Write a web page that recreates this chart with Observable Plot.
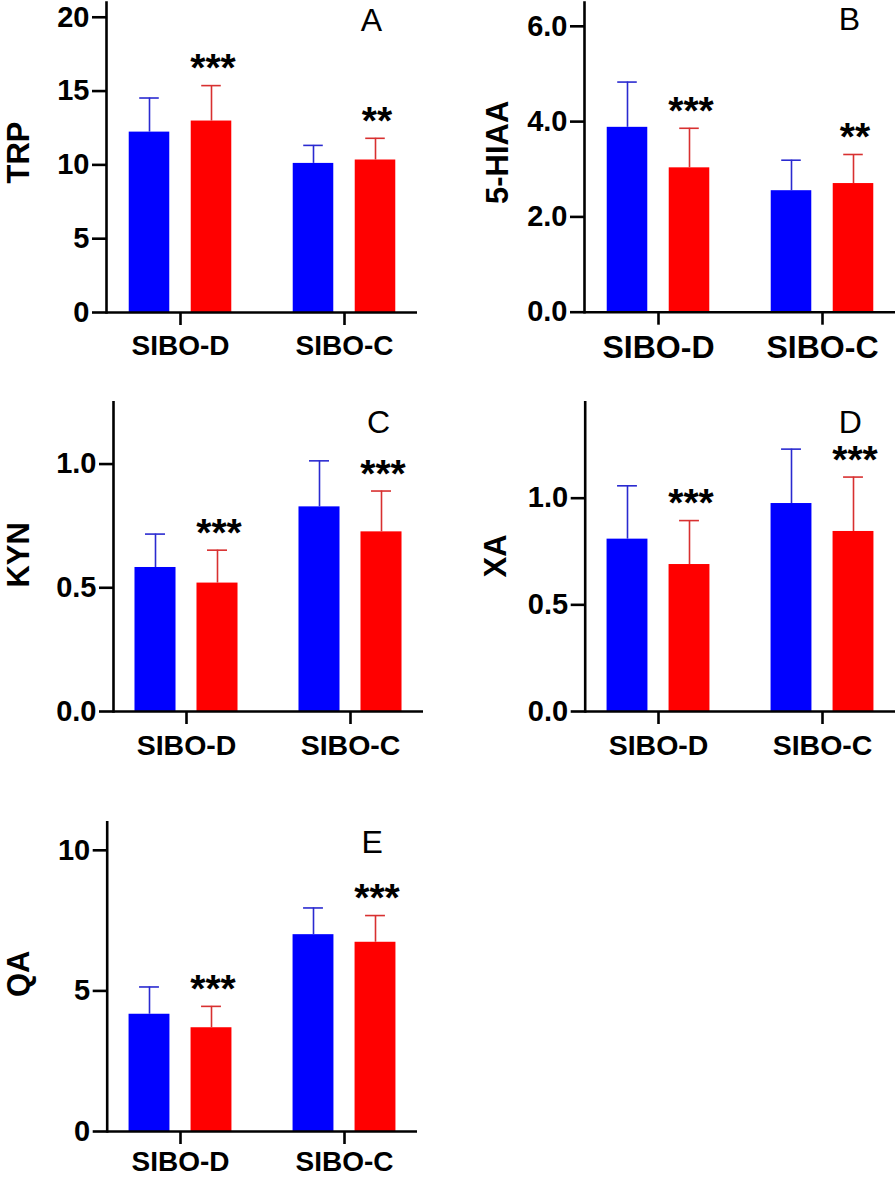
<!DOCTYPE html>
<html>
<head>
<meta charset="utf-8">
<script src="https://cdn.jsdelivr.net/npm/d3@7"></script>
<script src="https://cdn.jsdelivr.net/npm/@observablehq/plot@0.6"></script>
<style>
  html, body { margin: 0; padding: 0; background: #ffffff; }
  #root { position: relative; width: 896px; height: 1178px; background: #ffffff; overflow: hidden; }
  #root svg { position: absolute; }
</style>
</head>
<body>
<div id="root"></div>
<script>
// ---------- data ----------
const groups = ["SIBO-D", "SIBO-C"];
const series = ["Series 1", "Series 2"];

const trpMean1 = [12.22, 10.10];
const trpSd1   = [2.31, 1.22];
const trpMean2 = [12.97, 10.33];
const trpSd2   = [2.40, 1.47];
const trpSig   = ["***", "**"];

const hiaaMean1 = [3.88, 2.55];
const hiaaSd1   = [0.95, 0.64];
const hiaaMean2 = [3.03, 2.70];
const hiaaSd2   = [0.83, 0.61];
const hiaaSig   = ["***", "**"];

const kynMean1 = [0.582, 0.827];
const kynSd1   = [0.135, 0.186];
const kynMean2 = [0.519, 0.726];
const kynSd2   = [0.133, 0.165];
const kynSig   = ["***", "***"];

const xaMean1 = [0.808, 0.975];
const xaSd1   = [0.250, 0.255];
const xaMean2 = [0.689, 0.844];
const xaSd2   = [0.206, 0.255];
const xaSig   = ["***", "***"];

const qaMean1 = [4.17, 7.00];
const qaSd1   = [0.97, 0.95];
const qaMean2 = [3.69, 6.73];
const qaSd2   = [0.76, 0.95];
const qaSig   = ["***", "***"];

const trpTicks  = [0, 5, 10, 15, 20];
const hiaaTicks = [0, 2, 4, 6];
const kynTicks  = [0, 0.5, 1.0];
const xaTicks   = [0, 0.5, 1.0];
const qaTicks   = [0, 5, 10];

// ---------- helpers ----------
function rowsOf(m1, s1, m2, s2, sig) {
  const rows = [];
  groups.forEach((g, i) => {
    rows.push({group: g, series: series[0], mean: m1[i], sd: s1[i], sig: ""});
    rows.push({group: g, series: series[1], mean: m2[i], sd: s2[i], sig: sig[i]});
  });
  return rows;
}

const FONT = "'Liberation Sans', Arial, Helvetica, sans-serif";
const BLUE = "#0000ff", RED = "#ff0000";
const BLUE_ERR = "#2a2ad0", RED_ERR = "#d83030";
const PI = 0.11, PO = 0;

function panel(cfg) {
  const {left, top, width, height, mL, mR, mT, mB, domain, ticks, fmt,
         label, letter, rows, xFont, xPad, labelDx, labelDy, letterDy} = cfg;
  const range = width - mL - mR;
  const bw = range * (1 - PI) / (groups.length - PI + 2 * PO);
  const barW = 41, capW = 20, off = 31;
  const barIns = (bw - barW) / 2, capIns = (bw - capW) / 2;
  const s1 = rows.filter(d => d.series === series[0]);
  const s2 = rows.filter(d => d.series === series[1]);
  const topOf = d => d.mean + d.sd;
  const chart = Plot.plot({
    width, height,
    marginLeft: mL, marginRight: mR, marginTop: mT, marginBottom: mB,
    style: {fontFamily: FONT, background: "transparent", overflow: "visible", color: "#000"},
    x: {type: "band", domain: groups, paddingInner: PI, paddingOuter: PO, axis: null},
    y: {domain, axis: null},
    marks: [
      Plot.barY(s1, {x: "group", y: "mean", fill: BLUE, dx: -off, insetLeft: barIns, insetRight: barIns}),
      Plot.barY(s2, {x: "group", y: "mean", fill: RED, dx: off, insetLeft: barIns, insetRight: barIns}),
      Plot.ruleX(s1, {x: "group", y1: "mean", y2: topOf, dx: -off, stroke: BLUE_ERR, strokeWidth: 1.6}),
      Plot.ruleX(s2, {x: "group", y1: "mean", y2: topOf, dx: off, stroke: RED_ERR, strokeWidth: 1.6}),
      Plot.tickY(s1, {x: "group", y: topOf, dx: -off, stroke: BLUE_ERR, strokeWidth: 1.6, insetLeft: capIns, insetRight: capIns}),
      Plot.tickY(s2, {x: "group", y: topOf, dx: off, stroke: RED_ERR, strokeWidth: 1.6, insetLeft: capIns, insetRight: capIns}),
      Plot.text(s2, {x: "group", y: topOf, text: "sig", dx: off + 1.5, dy: -17, fontSize: 39, fontWeight: "bold",
                     textAnchor: "middle", lineAnchor: "middle", fill: "#000", style: "letter-spacing:3px"}),
      Plot.ruleY([0], {stroke: "#000", strokeWidth: 2.6}),
      Plot.frame({anchor: "left", stroke: "#000", strokeWidth: 2.6}),
      Plot.axisY({ticks, tickFormat: fmt, tickSize: 14, tickPadding: 3, fontSize: 29, fontWeight: "bold",
                  strokeWidth: 2.6, label: null, fill: "#000", stroke: "#000"}),
      Plot.axisX({tickSize: 13, tickPadding: xPad, fontSize: xFont, fontWeight: "bold",
                  strokeWidth: 2.6, label: null, fill: "#000", stroke: "#000"}),
      Plot.text([label], {frameAnchor: "left", dx: labelDx, dy: labelDy, rotate: -90, fontSize: 31,
                          fontWeight: "bold", textAnchor: "middle", lineAnchor: "middle", fill: "#000"}),
      Plot.text([letter], {frameAnchor: "top-left", dx: 265, dy: letterDy, fontSize: 32, fontWeight: "normal",
                           textAnchor: "middle", lineAnchor: "middle", fill: "#000"})
    ]
  });
  chart.style.left = left + "px";
  chart.style.top = top + "px";
  document.getElementById("root").appendChild(chart);
}

const fmtInt = d3.format("d");
const fmt1 = d3.format(".1f");

panel({left: 0, top: 0, width: 448, height: 365, mL: 106, mR: 31, mT: 2, mB: 53,
       domain: [0, 21], ticks: trpTicks, fmt: fmtInt, label: "TRP", letter: "A",
       rows: rowsOf(trpMean1, trpSd1, trpMean2, trpSd2, trpSig), xFont: 28, xPad: 10, labelDx: -87, labelDy: -5, letterDy: 18});
panel({left: 448, top: 0, width: 448, height: 365, mL: 136, mR: 1, mT: 2, mB: 53.3,
       domain: [0, 6.5], ticks: hiaaTicks, fmt: fmt1, label: "5-HIAA", letter: "B",
       rows: rowsOf(hiaaMean1, hiaaSd1, hiaaMean2, hiaaSd2, hiaaSig), xFont: 32, xPad: 10, labelDx: -86, labelDy: -5, letterDy: 17});
panel({left: 0, top: 365, width: 448, height: 400, mL: 113, mR: 25, mT: 36.7, mB: 54,
       domain: [0, 1.25], ticks: kynTicks, fmt: fmt1, label: "KYN", letter: "C",
       rows: rowsOf(kynMean1, kynSd1, kynMean2, kynSd2, kynSig), xFont: 28.5, xPad: 10, labelDx: -94, labelDy: -2, letterDy: 21});
panel({left: 448, top: 365, width: 448, height: 400, mL: 136.7, mR: 1, mT: 36.7, mB: 54,
       domain: [0, 1.45], ticks: xaTicks, fmt: fmt1, label: "XA", letter: "D",
       rows: rowsOf(xaMean1, xaSd1, xaMean2, xaSd2, xaSig), xFont: 28.5, xPad: 10, labelDx: -89, labelDy: -1, letterDy: 21});
panel({left: 0, top: 765, width: 448, height: 413, mL: 106.7, mR: 31, mT: 56.7, mB: 47,
       domain: [0, 11], ticks: qaTicks, fmt: fmtInt, label: "QA", letter: "E",
       rows: rowsOf(qaMean1, qaSd1, qaMean2, qaSd2, qaSig), xFont: 28, xPad: 7, labelDx: -88, labelDy: -3, letterDy: 21});
</script>
</body>
</html>
